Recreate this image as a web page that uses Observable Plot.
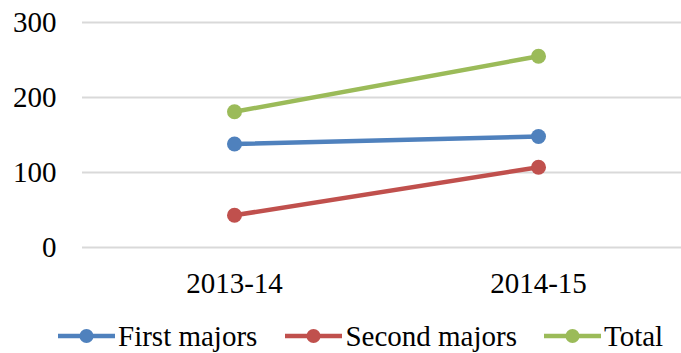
<!DOCTYPE html>
<html>
<head>
<meta charset="utf-8">
<script src="https://cdn.jsdelivr.net/npm/d3@7"></script>
<script src="https://cdn.jsdelivr.net/npm/@observablehq/plot@0.6"></script>
<style>
  body { margin: 0; background: #fff; }
  #wrap { position: relative; width: 681px; height: 353px; font-family: "Liberation Serif", "Times New Roman", serif; }
  #legend { position: absolute; left: 58px; top: 320px; height: 32px; display: flex; align-items: center; font-size: 29px; line-height: 32px; color: #000; white-space: nowrap; }
  .item { display: flex; align-items: center; }
  .item span { margin-left: 3px; }
</style>
</head>
<body>
<div id="wrap"><div id="chart"></div><div id="legend"></div></div>
<script>
const years = ["2013-14", "2014-15"];
const seriesNames = ["First majors", "Second majors", "Total"];
const firstMajors = [138, 148];
const secondMajors = [43, 107];
const total = [181, 255];
const colors = ["#4f81bd", "#c0504d", "#9bbb59"];
const yTicks = [0, 100, 200, 300];

const valuesBySeries = [firstMajors, secondMajors, total];
const data = [];
seriesNames.forEach((s, i) => years.forEach((y, j) => data.push({series: s, year: y, value: valuesBySeries[i][j]})));

const chart = Plot.plot({
  width: 681,
  height: 305,
  marginLeft: 82,
  marginRight: 0,
  marginTop: 22,
  marginBottom: 58,
  style: {fontFamily: "'Liberation Serif', 'Times New Roman', serif", fontSize: "29px", color: "#000", background: "#fff"},
  x: {type: "point", domain: years, range: [234, 538], padding: 0, label: null},
  y: {domain: [0, 300], label: null},
  color: {domain: seriesNames, range: colors},
  marks: [
    Plot.ruleY(yTicks, {stroke: "#d9d9d9", strokeWidth: 2}),
    Plot.axisY({ticks: yTicks, tickSize: 0, tickPadding: 26, fontSize: 29, label: null}),
    Plot.axisX({tickSize: 0, tickPadding: 25, fontSize: 29, label: null}),
    Plot.line(data, {x: "year", y: "value", z: "series", stroke: "series", strokeWidth: 4.5}),
    Plot.dot(data, {x: "year", y: "value", fill: "series", r: 7.5})
  ]
});
document.getElementById("chart").appendChild(chart);

const legend = d3.select("#legend");
const gaps = [0, 28, 27];
seriesNames.forEach((s, i) => {
  const item = legend.append("div").attr("class", "item").style("margin-left", gaps[i] + "px");
  const sw = item.append("svg").attr("width", 57).attr("height", 16);
  sw.append("line").attr("x1", 0).attr("x2", 57).attr("y1", 8).attr("y2", 8).attr("stroke", colors[i]).attr("stroke-width", 4.5);
  sw.append("circle").attr("cx", 28.5).attr("cy", 8).attr("r", 7).attr("fill", colors[i]);
  item.append("span").text(s);
});
</script>
</body>
</html>
